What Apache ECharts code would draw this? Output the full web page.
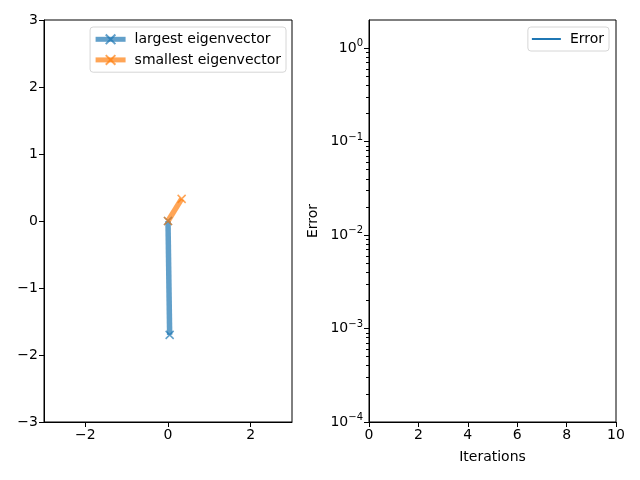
<!DOCTYPE html>
<html>
<head>
<meta charset="utf-8">
<script src="https://cdn.jsdelivr.net/npm/echarts@6/dist/echarts.min.js"></script>
<style>
html, body { margin: 0; padding: 0; background: #fff; }
#main { width: 640px; height: 480px; }
</style>
</head>
<body>
<div id="main"></div>
<script>
// left panel: eigenvectors drawn from the origin
var largestVec = [[0, 0], [0.04, -1.7]];
var smallestVec = [[0, 0], [0.33, 0.33]];
var vecTicksX = [-2, 0, 2];

// right panel: error curve (empty in the picture)
var errorData = [];
var errMajor = [1e-4, 1e-3, 1e-2, 1e-1, 1];
var errMinor = [];
[-4, -3, -2, -1].forEach(function (d) {
    for (var k = 2; k <= 9; k++) errMinor.push(k * Math.pow(10, d));
});

var myChart = echarts.init(document.getElementById('main'));
var font = 'DejaVu Sans';
var blue = 'rgba(31,119,180,0.7)';
var orange = 'rgba(255,127,14,0.7)';
var crossPath = 'path://M0,0L10,10M10,0L0,10';

function minus(v) {
    return String(v).replace('-', '\u2212');
}

var baseAxis = {
    axisLine: { show: true, onZero: false, lineStyle: { color: '#000', width: 1 } },
    axisTick: { show: true, inside: false, length: 5, lineStyle: { color: '#000' } },
    axisLabel: { color: '#000', fontFamily: font, fontSize: 14, margin: 6 },
    splitLine: { show: false }
};

function axis(extra) {
    return echarts.util.merge(echarts.util.clone(baseAxis), extra, true);
}

var legendText = { fontFamily: font, fontSize: 14, color: '#000', padding: [0, 0, 0, 4] };

var option = {
    animation: false,
    textStyle: { fontFamily: font },
    grid: [
        { left: 44, right: 348, top: 20, bottom: 58, show: true, borderColor: '#000', borderWidth: 1 },
        { left: 369, right: 24, top: 20, bottom: 58, show: true, borderColor: '#000', borderWidth: 1 }
    ],
    legend: [
        {
            data: ['largest eigenvector', 'smallest eigenvector'],
            orient: 'vertical', right: 354, top: 27,
            borderColor: '#d6d6d6', borderWidth: 1, borderRadius: 3, padding: [5, 5, 5, 3],
            backgroundColor: 'rgba(255,255,255,0.8)',
            itemWidth: 30, itemHeight: 12, itemGap: 6,
            lineStyle: { width: 5 },
            textStyle: legendText
        },
        {
            data: ['Error'],
            orient: 'vertical', right: 31, top: 27,
            borderColor: '#d6d6d6', borderWidth: 1, borderRadius: 3, padding: [5, 5, 5, 4],
            backgroundColor: 'rgba(255,255,255,0.8)',
            icon: 'rect', itemWidth: 29, itemHeight: 2,
            textStyle: legendText
        }
    ],
    xAxis: [
        axis({
            type: 'value', gridIndex: 0, min: -3, max: 3,
            axisTick: { customValues: vecTicksX },
            axisLabel: { customValues: vecTicksX, formatter: minus }
        }),
        axis({
            type: 'value', gridIndex: 1, min: 0, max: 10, interval: 2,
            name: 'Iterations', nameLocation: 'middle', nameGap: 28,
            nameTextStyle: { color: '#000', fontFamily: font, fontSize: 14 }
        })
    ],
    yAxis: [
        axis({
            type: 'value', gridIndex: 0, min: -3, max: 3, interval: 1,
            axisLabel: { formatter: minus }
        }),
        axis({
            type: 'log', logBase: 10, gridIndex: 1, min: 1e-4, max: 2, position: 'left',
            name: 'Error', nameLocation: 'middle', nameGap: 49,
            nameTextStyle: { color: '#000', fontFamily: font, fontSize: 14 },
            axisTick: { customValues: errMajor },
            axisLabel: {
                customValues: errMajor,
                formatter: function (v) {
                    var e = Math.round(Math.log(v) / Math.LN10);
                    return '10{s|' + minus(e) + '}';
                },
                rich: { s: { fontSize: 10, fontFamily: font, color: '#000', padding: [0, 0, 9, 0] } }
            }
        }),
        axis({
            type: 'log', logBase: 10, gridIndex: 1, min: 1e-4, max: 2, position: 'left',
            axisLine: { show: false },
            axisTick: { customValues: errMinor, length: 3 },
            axisLabel: { show: false }
        })
    ],
    series: [
        {
            name: 'largest eigenvector', type: 'line', xAxisIndex: 0, yAxisIndex: 0,
            data: largestVec, symbol: crossPath, symbolSize: 8, showAllSymbol: true,
            lineStyle: { color: blue, width: 5.5 },
            itemStyle: { color: 'none', borderColor: blue, borderWidth: 1.5 },
            emphasis: { disabled: true }
        },
        {
            name: 'smallest eigenvector', type: 'line', xAxisIndex: 0, yAxisIndex: 0,
            data: smallestVec, symbol: crossPath, symbolSize: 8, showAllSymbol: true,
            lineStyle: { color: orange, width: 5.5 },
            itemStyle: { color: 'none', borderColor: orange, borderWidth: 1.5 },
            emphasis: { disabled: true }
        },
        {
            name: 'Error', type: 'line', xAxisIndex: 1, yAxisIndex: 1,
            data: errorData, symbol: 'none',
            lineStyle: { color: '#1f77b4', width: 1.5 },
            itemStyle: { color: '#1f77b4' }
        }
    ]
};
myChart.setOption(option);
</script>
</body>
</html>
